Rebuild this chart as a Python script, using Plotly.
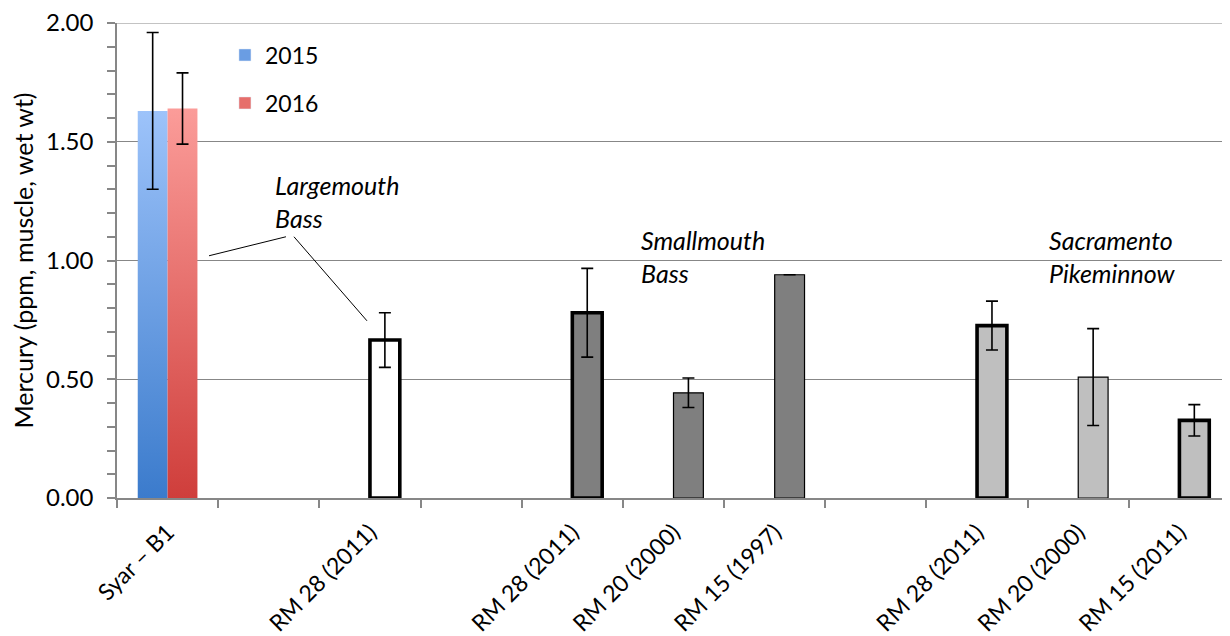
import plotly.graph_objects as go

# ---------------- data ----------------
site_labels = ["Syar – B1", "", "RM 28 (2011)", "", "RM 28 (2011)", "RM 20 (2000)",
               "RM 15 (1997)", "", "RM 28 (2011)", "RM 20 (2000)", "RM 15 (2011)"]
group_of_site = ["Syar", "gap1", "LMB", "gap2", "SMB", "SMB", "SMB", "gap3", "SP", "SP", "SP"]

syar_years = ["2015", "2016"]
syar_mean = [1.63, 1.64]
syar_err = [0.33, 0.15]

lmb_mean = [0.665]
lmb_err = [0.115]

smb_mean = [0.78, 0.443, 0.94]
smb_err = [0.187, 0.062, None]

sp_mean = [0.726, 0.509, 0.327]
sp_err = [0.103, 0.204, 0.066]

species_labels = ["Largemouth<br>Bass", "Smallmouth<br>Bass", "Sacramento<br>Pikeminnow"]
y_tick_vals = [0.0, 0.5, 1.0, 1.5, 2.0]
y_tick_text = ["0.00", "0.50", "1.00", "1.50", "2.00"]
y_title = "Mercury (ppm, muscle, wet wt)"

# ---------------- styles ----------------
FONT = "Lato"
GRAY = "#878787"
grad_2015 = ["#3b7bcc", "#9dc3fa"]   # bottom, top
grad_2016 = ["#cf3e3b", "#fb9c99"]
legend_2015 = "#6a9de3"
legend_2016 = "#e66e6b"
lmb_color = "white"
smb_color = "#7f7f7f"
sp_color = "#bfbfbf"
thick, thin = 3.6, 1.2
smb_lw = [thick, thin, thin]
sp_lw = [thick, thin, thick]
BARGAP = 0.41

# unique category ids (labels repeat)
cat_ids = [f"{g}|{i}" for i, g in enumerate(group_of_site)]
syar_cat = [c for c in cat_ids if c.startswith("Syar")]
lmb_cats = [c for c in cat_ids if c.startswith("LMB")]
smb_cats = [c for c in cat_ids if c.startswith("SMB")]
sp_cats = [c for c in cat_ids if c.startswith("SP")]

def nan(v):
    return [float("nan") if e is None else e for e in v]

def err(arr):
    return dict(type="data", array=nan(arr), color="black", thickness=1.6, width=6)

fig = go.Figure()

# gradient fills for the Syar bars (base linear axis, drawn under the bar layer)
slot = (1 - BARGAP) / 2
syar_idx = cat_ids.index(syar_cat[0])
for k, (yr, val, grad) in enumerate(zip(syar_years, syar_mean, [grad_2015, grad_2016])):
    x0 = syar_idx - slot + k * slot
    x1 = x0 + slot
    fig.add_trace(go.Scatter(
        x=[x0, x1, x1, x0, x0], y=[0, 0, val, val, 0],
        xaxis="x", yaxis="y", mode="lines", fill="toself",
        line=dict(width=0), fillgradient=dict(type="vertical", colorscale=[[0, grad[0]], [1, grad[1]]]),
        showlegend=False, hoverinfo="skip"))

# legend entries
fig.add_trace(go.Bar(x=[None], y=[None], name=syar_years[0], marker_color=legend_2015,
                     xaxis="x", yaxis="y", legend="legend"))
fig.add_trace(go.Bar(x=[None], y=[None], name=syar_years[1], marker_color=legend_2016,
                     xaxis="x", yaxis="y", legend="legend2"))

# actual bars on category axis (overlay)
fig.add_trace(go.Bar(x=syar_cat, y=[syar_mean[0]], offsetgroup="a", xaxis="x2", yaxis="y",
                     marker=dict(color="rgba(0,0,0,0)", line=dict(width=0)),
                     error_y=err([syar_err[0]]), showlegend=False))
fig.add_trace(go.Bar(x=syar_cat, y=[syar_mean[1]], offsetgroup="b", xaxis="x2", yaxis="y",
                     marker=dict(color="rgba(0,0,0,0)", line=dict(width=0)),
                     error_y=err([syar_err[1]]), showlegend=False))
fig.add_trace(go.Bar(x=lmb_cats, y=lmb_mean, offsetgroup="b", xaxis="x2", yaxis="y",
                     marker=dict(color=lmb_color, line=dict(color="black", width=thick)),
                     error_y=err(lmb_err), showlegend=False))
fig.add_trace(go.Bar(x=smb_cats, y=smb_mean, offsetgroup="b", xaxis="x2", yaxis="y",
                     marker=dict(color=smb_color, line=dict(color="black", width=smb_lw)),
                     error_y=err(smb_err), showlegend=False))
fig.add_trace(go.Bar(x=sp_cats, y=sp_mean, offsetgroup="b", xaxis="x2", yaxis="y",
                     marker=dict(color=sp_color, line=dict(color="black", width=sp_lw)),
                     error_y=err(sp_err), showlegend=False))

# species annotations
ann_pos = [(0.1402, 0.625), (0.469, 0.509), (0.8356, 0.509)]
annotations = []
for txt, (ax_, ay_) in zip(species_labels, ann_pos):
    annotations.append(dict(text=f"<i>{txt}</i>", x=ax_, y=ay_, xref="paper", yref="paper",
                            xanchor="left", yanchor="middle", align="left", showarrow=False,
                            font=dict(family=FONT, size=25, color="black")))

shapes = [
    # top gridline (plotly skips gridlines on the plot edge)
    dict(type="line", xref="paper", yref="y", x0=0, x1=1, y0=y_tick_vals[-1], y1=y_tick_vals[-1],
         line=dict(color=GRAY, width=1.2), layer="below"),
    dict(type="line", xref="paper", yref="paper", x0=0.0827, y0=0.510, x1=0.1518, y1=0.550,
         line=dict(color="black", width=1)),
    dict(type="line", xref="paper", yref="paper", x0=0.159, y0=0.550, x1=0.2246, y1=0.373,
         line=dict(color="black", width=1)),
]

# page body has an 8px margin, so the figure is sized to fit the window
fig.update_layout(
    width=1222, height=628,
    margin=dict(l=109, r=0, t=15, b=138, autoexpand=False),
    paper_bgcolor="white", plot_bgcolor="white",
    font=dict(family=FONT, size=22, color="black"),
    barmode="group", bargap=BARGAP, bargroupgap=0,
    xaxis=dict(visible=False, range=[-0.5, 10.5], fixedrange=True, automargin=False),
    xaxis2=dict(type="category", overlaying="x", anchor="y", side="bottom", automargin=False,
                categoryorder="array", categoryarray=cat_ids, range=[-0.5, 10.5],
                tickmode="array", tickvals=cat_ids, ticktext=site_labels,
                tickangle=-45, ticks="outside", ticklen=8, tickcolor=GRAY, tickwidth=1.5,
                tickson="boundaries", showline=True, linecolor=GRAY, linewidth=1.5,
                ticklabelstandoff=10, ticklabeloverflow="allow",
                showgrid=False, tickfont=dict(family=FONT, size=23, color="black")),
    yaxis=dict(range=[0, 2], tickmode="array", tickvals=y_tick_vals, ticktext=y_tick_text,
               automargin=False, ticklabeloverflow="allow",
               ticks="outside", ticklen=8, tickcolor=GRAY, tickwidth=1.5,
               showline=True, linecolor=GRAY, linewidth=1.5, showgrid=True, gridcolor=GRAY,
               gridwidth=1.2, zeroline=False, ticklabelstandoff=9,
               minor=dict(dtick=0.1, ticks="outside", ticklen=8, tickcolor=GRAY, tickwidth=1.5, showgrid=False),
               title=dict(text=y_title, font=dict(family=FONT, size=25), standoff=8),
               tickfont=dict(family=FONT, size=24, color="black")),
    legend=dict(x=0.097, y=0.9326, xanchor="left", yanchor="middle", bgcolor="rgba(0,0,0,0)",
                font=dict(family=FONT, size=23)),
    legend2=dict(x=0.097, y=0.8316, xanchor="left", yanchor="middle", bgcolor="rgba(0,0,0,0)",
                 font=dict(family=FONT, size=23)),
    annotations=annotations, shapes=shapes,
)

fig.write_html("out.html")
